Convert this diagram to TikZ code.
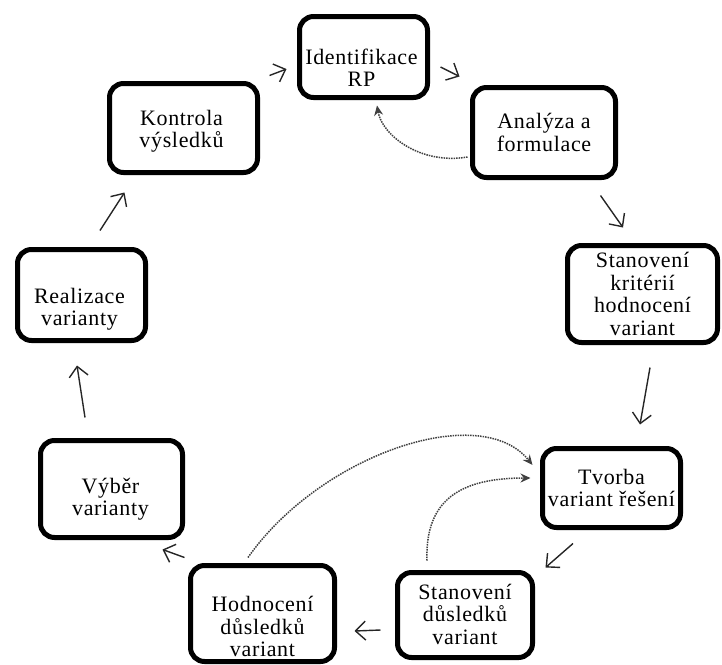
\documentclass[tikz,border=0pt]{standalone}
\usepackage{fontspec}
\setmainfont{Liberation Serif}[LetterSpace=3]
\usetikzlibrary{arrows.meta}

\tikzset{
  box/.style={draw=black, line width=5pt, rounded corners=14pt, rectangle, inner sep=0pt, fill=white},
  txt/.style={align=center, inner sep=0pt, font=\fontsize{22pt}{22.5pt}\selectfont, text=black},
  arr/.style={draw=black!85, line width=1.4pt, -{Straight Barb[length=10pt,width=19pt,line width=1.4pt]}},
  loopback/.style={draw=black!75, densely dotted, line width=1.5pt, -{Stealth[length=10pt,width=9pt]}},
}

\begin{document}
\begin{tikzpicture}[x=1pt, y=-1pt]
\useasboundingbox (0,0) rectangle (722,664);

% process boxes
\node[box, minimum width=128pt, minimum height=81pt] (idf) at (363.5,57) {};
\node[box, minimum width=143pt, minimum height=90pt] (ana) at (544,132.5) {};
\node[box, minimum width=150pt, minimum height=97pt] (kri) at (642.5,294) {};
\node[box, minimum width=138pt, minimum height=79pt] (tvo) at (611.5,488) {};
\node[box, minimum width=135pt, minimum height=85pt] (dus) at (465,615) {};
\node[box, minimum width=144pt, minimum height=96pt] (hod) at (262.5,613.5) {};
\node[box, minimum width=142pt, minimum height=97pt] (vyb) at (111.5,489) {};
\node[box, minimum width=128pt, minimum height=91pt] (rea) at (81.5,295) {};
\node[box, minimum width=148pt, minimum height=89pt] (kon) at (183.5,128) {};

% box captions
\node[txt] (idf-t) at ([shift={(-2,11)}]idf.center) {Identifikace\\RP};
\node[txt] (ana-t) at ([shift={(0,0)}]ana.center) {Analýza a\\formulace};
\node[txt] (kri-t) at ([shift={(0,0)}]kri.center) {Stanovení\\kritérií\\hodnocení\\variant};
\node[txt] (tvo-t) at ([shift={(0,0)}]tvo.center) {Tvorba\\variant řešení};
\node[txt] (dus-t) at ([shift={(0,-1)}]dus.center) {Stanovení\\důsledků\\variant};
\node[txt] (hod-t) at ([shift={(0,13)}]hod.center) {Hodnocení\\důsledků\\variant};
\node[txt] (vyb-t) at ([shift={(-1,10)}]vyb.center) {Výběr\\varianty};
\node[txt] (rea-t) at ([shift={(-2,14)}]rea.center) {Realizace\\varianty};
\node[txt] (kon-t) at ([shift={(-2,3)}]kon.center) {Kontrola\\výsledků};

% main cycle
\draw[arr] ([shift={(9.5,-5.5)}]kon.north east) -- ([shift={(-10.5,12)}]idf.west);
\draw[arr] ([shift={(10.5,10)}]idf.east) -- ([shift={(-10.5,-8.5)}]ana.north west);
\draw[arr] ([shift={(-17.5,15.5)}]ana.south east) -- ([shift={(-19.5,-15.5)}]kri.north);
\draw[arr] ([shift={(7.5,22.5)}]kri.south) -- ([shift={(28.5,-21.5)}]tvo.north);
\draw[arr] ([shift={(-38.5,13.5)}]tvo.south) -- ([shift={(10.5,-2.5)}]dus.north east);
\draw[arr] ([shift={(-14.5,15)}]dus.west) -- ([shift={(17.5,17.5)}]hod.east);
\draw[arr] ([shift={(-3.5,-5.5)}]hod.north west) -- ([shift={(-22.5,9.5)}]vyb.south east);
\draw[arr] ([shift={(-26.5,-20.5)}]vyb.north) -- ([shift={(-4.5,22.5)}]rea.south);
\draw[arr] ([shift={(18.5,-16.5)}]rea.north) -- ([shift={(17.5,17.5)}]kon.south west);

% feedback loops
\draw[loopback] ([shift={(-2.5,24.5)}]ana.west)
  .. controls (420,165) and (382,135) .. ([shift={(13.5,5.5)}]idf.south);
\draw[loopback] ([shift={(-14.5,-5.5)}]hod.north)
  .. controls (320,455) and (480,400) .. ([shift={(-7.5,-23)}]tvo.west);
\draw[loopback] ([shift={(-38,-9.5)}]dus.north)
  .. controls (425,500) and (460,478) .. ([shift={(-9.5,-10)}]tvo.west);
\end{tikzpicture}
\end{document}
